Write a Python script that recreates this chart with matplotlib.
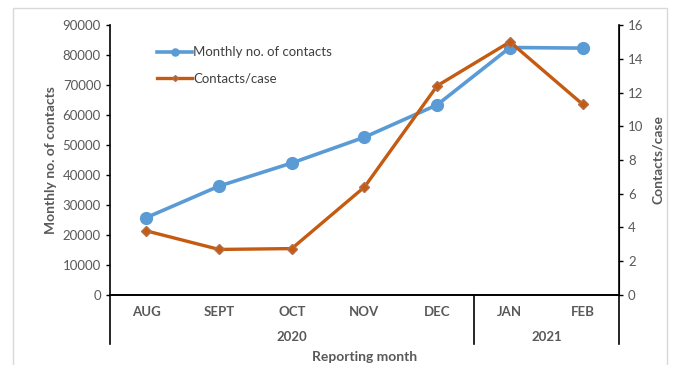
"""Monthly contacts and contacts per case, Aug 2020 - Feb 2021."""
import matplotlib.pyplot as plt
from matplotlib.lines import Line2D
from matplotlib.patches import Rectangle

months = ['AUG', 'SEPT', 'OCT', 'NOV', 'DEC', 'JAN', 'FEB']
years = ['2020', '2021']
year_spans = [(0, 5), (5, 7)]  # month index ranges belonging to each year
contacts = [25800, 36300, 44000, 52600, 63400, 82500, 82300]
contacts_per_case = [3.8, 2.7, 2.75, 6.4, 12.4, 15.0, 11.3]

BLUE = '#5B9BD5'
ORANGE = '#C55A11'
GREY = '#595959'

plt.rcParams['font.family'] = ['Lato', 'DejaVu Sans']

fig = plt.figure(figsize=(6.73, 3.65), dpi=100)
ax = fig.add_axes([0.1634, 0.1918, 0.7564, 0.7397])
ax2 = ax.twinx()

x = list(range(len(months)))
ax.plot(x, contacts, color=BLUE, lw=2.6, marker='o', ms=8.5,
        label='Monthly no. of contacts', zorder=3)
ax2.plot(x, contacts_per_case, color=ORANGE, lw=2.4, marker='D', ms=5,
         mfc=ORANGE, mec='#B07050', label='Contacts/case', zorder=3)

ax.set_xlim(-0.5, len(months) - 0.5)
ax.set_ylim(0, 90000)
ax.set_yticks(range(0, 90001, 10000))
ax2.set_ylim(0, 16)
ax2.set_yticks(range(0, 17, 2))

for a in (ax, ax2):
    a.spines['top'].set_visible(False)
    a.tick_params(axis='y', labelsize=9.5, labelcolor=GREY, length=3,
                  width=1, color='black')
ax.spines['left'].set_linewidth(1.2)
ax.spines['bottom'].set_linewidth(1.4)
ax2.spines['left'].set_visible(False)
ax2.spines['bottom'].set_visible(False)
ax2.spines['right'].set_linewidth(1.2)

ax.set_xticks(x)
ax.set_xticklabels(months, fontsize=9.5, color=GREY, fontweight='bold')
ax.tick_params(axis='x', length=0, pad=8)

ax.set_ylabel('Monthly no. of contacts', fontsize=10, color=GREY,
              fontweight='bold', labelpad=4)
ax2.set_ylabel('Contacts/case', fontsize=10, color=GREY,
               fontweight='bold', labelpad=6)

# multi-level category axis: year brackets below month labels
trans = ax.get_xaxis_transform()
depth = -0.18
for xb in [-0.5, year_spans[0][1] - 0.5, len(months) - 0.5]:
    ax.add_line(Line2D([xb, xb], [0, depth], transform=trans, color='black',
                       lw=1.2, clip_on=False))
for yr, (s, e) in zip(years, year_spans):
    ax.text((s + e - 1) / 2, -0.155, yr, transform=trans, ha='center',
            va='center', fontsize=9.5, color=GREY, fontweight='bold')
ax.text(0.5, -0.23, 'Reporting month', transform=ax.transAxes, ha='center',
        va='center', fontsize=10, color=GREY, fontweight='bold')

h1, l1 = ax.get_legend_handles_labels()
h2, l2 = ax2.get_legend_handles_labels()
ax.legend(h1 + h2, l1 + l2, loc='upper left', bbox_to_anchor=(0.07, 0.965),
          frameon=False, fontsize=9.5, labelcolor='#404040', handlelength=2.6,
          handletextpad=0.1, labelspacing=1.1, markerscale=0.6)

fig.add_artist(Rectangle((13 / 673, -0.01), 654 / 673, 1.01 - 8 / 365,
                         transform=fig.transFigure, fill=False,
                         edgecolor='#D9D9D9', lw=1))

fig.savefig('out.png', dpi=100)
